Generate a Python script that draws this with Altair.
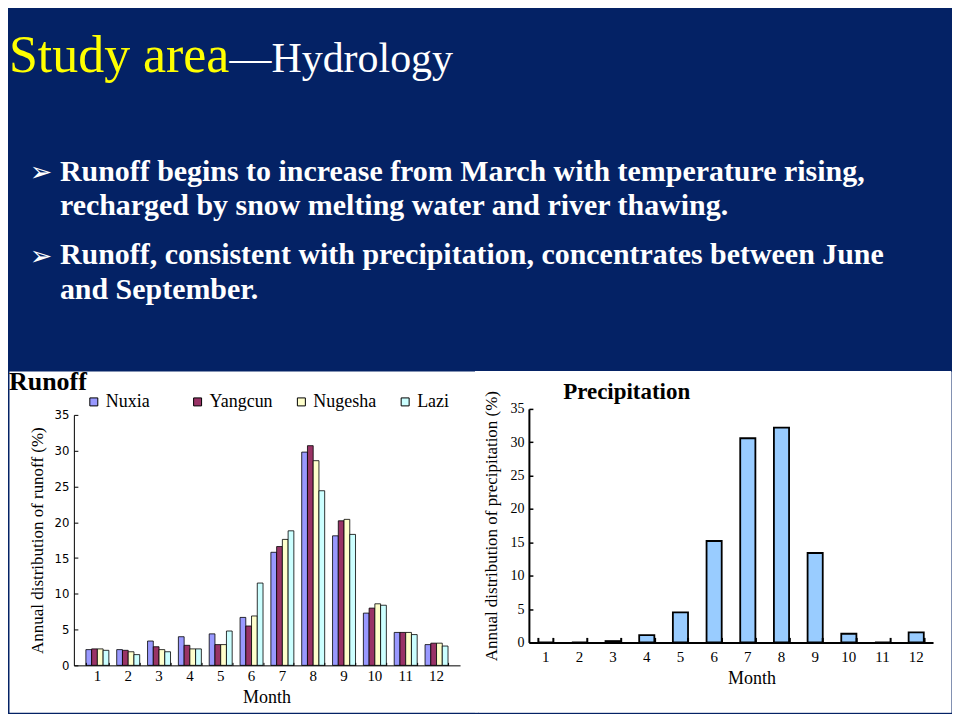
import altair as alt
import pandas as pd

# ---------------- data ----------------
months = list(range(1, 13))
stations = ["Nuxia", "Yangcun", "Nugesha", "Lazi"]
station_colors = ["#9999FF", "#993366", "#FFFFCC", "#CCFFFF"]

nuxia = [2.2, 2.2, 3.4, 4.0, 4.4, 6.7, 15.8, 29.8, 18.1, 7.3, 4.6, 2.9]
yangcun = [2.3, 2.1, 2.6, 2.8, 2.9, 5.5, 16.6, 30.7, 20.2, 8.0, 4.6, 3.1]
nugesha = [2.3, 1.9, 2.2, 2.3, 2.9, 6.9, 17.6, 28.6, 20.4, 8.6, 4.6, 3.1]
lazi = [2.1, 1.5, 1.9, 2.3, 4.8, 11.5, 18.8, 24.4, 18.3, 8.4, 4.3, 2.7]

precip = [0.0, 0.0, 0.2, 1.1, 4.5, 15.2, 30.6, 32.2, 13.4, 1.3, 0.0, 1.5]

y_ticks = [0, 5, 10, 15, 20, 25, 30, 35]

title_main = "Study area"
title_sub = "\u2014Hydrology"
bullet_lines = [
    "Runoff begins to increase from March with temperature rising,",
    "recharged by snow melting water and river thawing.",
    "Runoff, consistent with precipitation, concentrates between June",
    "and September.",
]
bullet_mark = "\u27a2"
runoff_title = "Runoff"
precip_title = "Precipitation"
runoff_ytitle = "Annual distribution of runoff (%)"
precip_ytitle = "Annual distribution of precipitation (%)"
x_title = "Month"

# ---------------- tables ----------------
runoff_df = pd.DataFrame(
    [
        {"month": m, "station": s, "value": v}
        for s, vals in zip(stations, [nuxia, yangcun, nugesha, lazi])
        for m, v in zip(months, vals)
    ]
)
precip_df = pd.DataFrame({"month": months, "precip": precip})

NAVY = "#042265"
SERIF = "Liberation Serif"
NARROW = "Liberation Sans Narrow, DejaVu Sans Condensed, Liberation Sans"

TOP_H = 362
PANEL_H = 342
LEFT_W = 470
RIGHT_W = 474


def text_layer(s, x, y, **kw):
    return (
        alt.Chart(pd.DataFrame({"t": [s]}))
        .mark_text(**kw)
        .encode(x=alt.value(x), y=alt.value(y), text="t:N")
    )


# ---------------- top: slide text ----------------
top_layers = [
    text_layer(title_main, 0, 62, font=SERIF, fontSize=52, color="#FFFF00",
               align="left", baseline="alphabetic"),
    text_layer(title_sub, 221, 62, font=SERIF, fontSize=42, color="white",
               align="left", baseline="alphabetic"),
    text_layer(bullet_mark, 32, 164, font="DejaVu Sans", fontSize=27, color="white",
               align="center", baseline="middle"),
    text_layer(bullet_mark, 32, 248, font="DejaVu Sans", fontSize=27, color="white",
               align="center", baseline="middle"),
]
for line, yy in zip(bullet_lines, [172, 206, 255, 290]):
    top_layers.append(
        text_layer(line, 51, yy, font=SERIF, fontSize=30, fontWeight="bold",
                   color="white", align="left", baseline="alphabetic")
    )
top = alt.layer(*top_layers).properties(
    width=944, height=TOP_H, view=alt.ViewBackground(stroke="transparent")
)

# ---------------- runoff panel ----------------
rx_scale = alt.Scale(range=[65, 452], paddingInner=0.255, paddingOuter=0.39)
ry_scale = alt.Scale(domain=[0, 35], range=[295, 44], nice=False)

runoff_bars = (
    alt.Chart(runoff_df)
    .mark_bar(stroke="black", strokeWidth=0.8)
    .encode(
        x=alt.X(
            "month:O",
            scale=rx_scale,
            axis=alt.Axis(
                orient="bottom", offset=-47, title=x_title, labelAngle=0,
                ticks=False, tickSize=0, grid=False, domainColor="black", domainWidth=1,
                labelFont=SERIF, labelFontSize=15, labelColor="black", labelPadding=3,
                titleFont=SERIF, titleFontSize=18, titleFontWeight="normal",
                titleColor="black", titleX=258, titleY=23, zindex=1,
            ),
        ),
        xOffset=alt.XOffset("station:N", sort=stations),
        y=alt.Y(
            "value:Q",
            scale=ry_scale,
            axis=alt.Axis(
                orient="left", offset=-65, values=y_ticks, ticks=False, tickSize=0,
                grid=False, domainColor="black", domainWidth=1,
                labelFont=NARROW, labelFontSize=13, labelColor="black", labelPadding=5,
                title=runoff_ytitle, titleFont=SERIF, titleFontSize=17,
                titleFontWeight="normal", titleColor="black", titlePadding=8, zindex=1,
            ),
        ),
        color=alt.Color(
            "station:N",
            sort=stations,
            scale=alt.Scale(domain=stations, range=station_colors),
            legend=alt.Legend(
                orient="none", legendX=76, legendY=TOP_H + 22, direction="horizontal",
                title=None, symbolType="square", symbolSize=64,
                symbolStrokeColor="black", symbolStrokeWidth=1,
                labelFont=SERIF, labelFontSize=18, labelColor="black",
                labelOffset=3, columnPadding=19, gridAlign="all", padding=0,
            ),
        ),
    )
)

runoff_ticks = (
    alt.Chart(runoff_df)
    .mark_point(opacity=0)
    .encode(
        x=alt.X(
            "month:O", scale=rx_scale,
            axis=alt.Axis(orient="bottom", offset=-50, labels=False, domain=False,
                          tickSize=3, tickBand="extent", tickColor="black",
                          grid=False, title=None, zindex=1),
        ),
        y=alt.Y(
            "value:Q", scale=ry_scale,
            axis=alt.Axis(orient="left", offset=-69, labels=False, domain=False,
                          values=y_ticks, tickSize=4, tickColor="black",
                          grid=False, title=None, zindex=1),
        ),
    )
)

runoff_label = text_layer(runoff_title, 0, 19, font=SERIF, fontSize=26,
                          fontWeight="bold", color="black", align="left",
                          baseline="alphabetic")

left = (
    alt.layer(runoff_bars, runoff_ticks, runoff_label)
    .resolve_axis(x="independent", y="independent")
    .properties(width=LEFT_W, height=PANEL_H,
                view=alt.ViewBackground(fill="white", stroke="transparent"))
)

# ---------------- precipitation panel ----------------
px_scale = alt.Scale(range=[51, 456], paddingInner=0.55, paddingOuter=0.275)
py_scale = alt.Scale(domain=[0, 35], range=[272, 38], nice=False)

# white backing that also hides the seam between the two panels
panel_back = (
    alt.Chart(pd.DataFrame({"t": [""]}))
    .mark_rect(fill="white")
    .encode(x=alt.value(-3), x2=alt.value(RIGHT_W), y=alt.value(0), y2=alt.value(PANEL_H))
)

precip_bars = (
    alt.Chart(precip_df)
    .mark_bar(fill="#99CCFF", stroke="black", strokeWidth=1.8)
    .encode(
        x=alt.X(
            "month:O",
            scale=px_scale,
            axis=alt.Axis(
                orient="bottom", offset=-70, title=x_title, labelAngle=0,
                ticks=False, tickSize=0, grid=False, domainColor="black", domainWidth=2,
                labelFont=SERIF, labelFontSize=15, labelColor="black", labelPadding=7,
                titleFont=SERIF, titleFontSize=18, titleFontWeight="normal",
                titleColor="black", titleX=274, titleY=27, zindex=1,
            ),
        ),
        y=alt.Y(
            "precip:Q",
            scale=py_scale,
            axis=alt.Axis(
                orient="left", offset=-51, values=y_ticks, ticks=False, tickSize=0,
                grid=False, domainColor="black", domainWidth=2,
                labelFont=SERIF, labelFontSize=14, labelColor="black", labelPadding=5,
                title=precip_ytitle, titleFont=SERIF, titleFontSize=17,
                titleFontWeight="normal", titleColor="black", titlePadding=9, zindex=1,
            ),
        ),
    )
)

precip_ticks = (
    alt.Chart(precip_df)
    .mark_point(opacity=0)
    .encode(
        x=alt.X(
            "month:O", scale=px_scale,
            axis=alt.Axis(orient="bottom", offset=-75, labels=False, domain=False,
                          tickSize=5, tickBand="extent", tickColor="black", tickWidth=2,
                          grid=False, title=None, zindex=1),
        ),
        y=alt.Y(
            "precip:Q", scale=py_scale,
            axis=alt.Axis(orient="left", offset=-55, labels=False, domain=False,
                          values=y_ticks, tickSize=4, tickColor="black", tickWidth=1.5,
                          grid=False, title=None, zindex=1),
        ),
    )
)

precip_label = text_layer(precip_title, 149, 28, font=SERIF, fontSize=23,
                          fontWeight="bold", color="black", align="center",
                          baseline="alphabetic")

right = (
    alt.layer(panel_back, precip_bars, precip_ticks, precip_label)
    .resolve_axis(x="independent", y="independent")
    .properties(width=RIGHT_W, height=PANEL_H,
                view=alt.ViewBackground(fill="white", stroke="transparent"))
)

chart = (
    alt.vconcat(
        top,
        alt.hconcat(left, right, spacing=0, bounds="flush"),
        spacing=0,
        bounds="flush",
    )
    .properties(background=NAVY, padding=0)
    .configure_view(stroke="transparent")
)

chart.save("out.html", embed_options={"renderer": "svg", "actions": False})
